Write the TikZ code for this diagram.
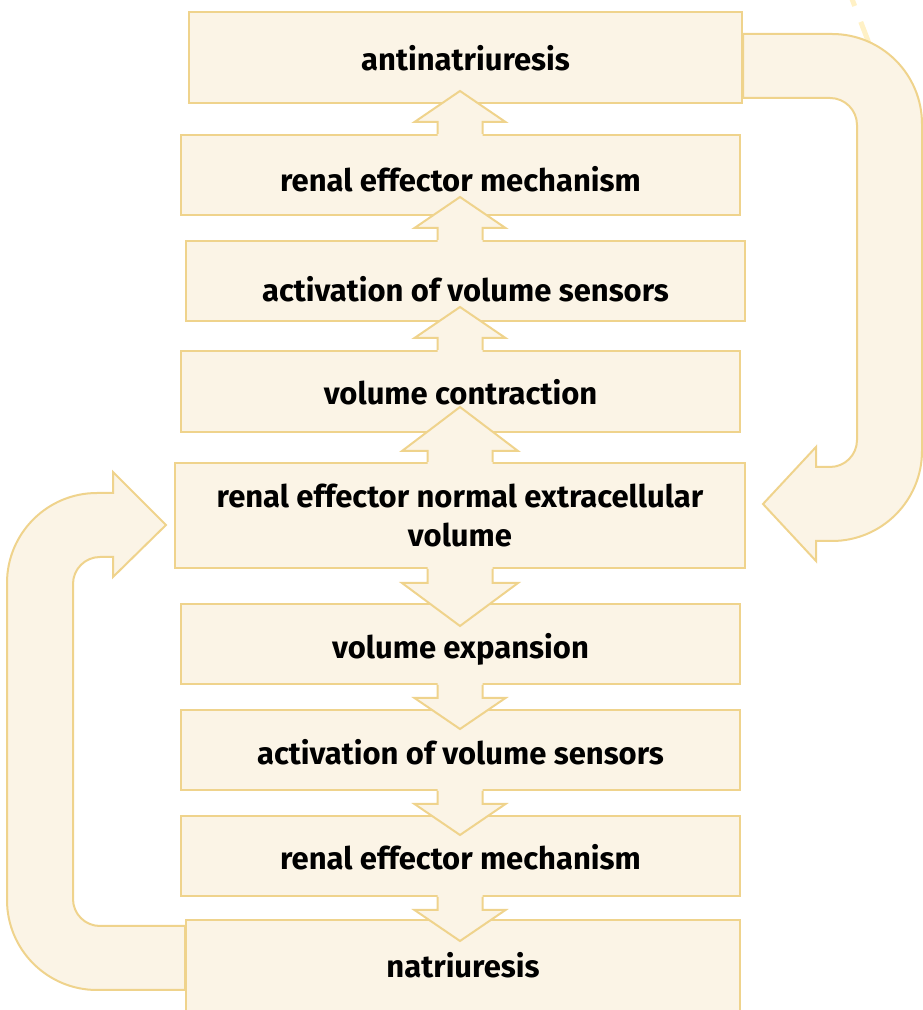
\documentclass[tikz,border=0pt]{standalone}
\usepackage{fontspec}
\setmainfont{Fira Sans}
\usetikzlibrary{calc}
\definecolor{fillc}{HTML}{FBF4E6}
\definecolor{linec}{HTML}{EFD38C}
\definecolor{dashc}{HTML}{FFF1C6}
\tikzset{
  box/.style={draw=linec, fill=fillc, line width=2pt, inner sep=0pt, align=center,
    font=\bfseries\fontsize{31}{39}\selectfont},
  lbl/.style={text height=#1, text depth=0pt},
  arrfill/.style={fill=fillc},
  arrline/.style={draw=linec, line width=2pt, line join=miter},
}
\newcommand\blockup[5]{%
  \fill[arrfill] ($(mid |- #1)+(-#2,-3)$) -- ++(0,#4+3) -- ++(#2-#3,0) -- ++(#3,#5) -- ++(#3,-#5) -- ++(#2-#3,0) -- ++(0,-#4-3) -- cycle;
  \draw[arrline] ($(mid |- #1)+(-#2,0)$) -- ++(0,#4) -- ++(#2-#3,0) -- ++(#3,#5) -- ++(#3,-#5) -- ++(#2-#3,0) -- ++(0,-#4);
}
\newcommand\blockdown[5]{%
  \fill[arrfill] ($(mid |- #1)+(-#2,3)$) -- ++(0,-#4-3) -- ++(#2-#3,0) -- ++(#3,-#5) -- ++(#3,#5) -- ++(#2-#3,0) -- ++(0,#4+3) -- cycle;
  \draw[arrline] ($(mid |- #1)+(-#2,0)$) -- ++(0,-#4) -- ++(#2-#3,0) -- ++(#3,-#5) -- ++(#3,#5) -- ++(#2-#3,0) -- ++(0,#4);
}
\begin{document}
\begin{tikzpicture}[x=1pt,y=1pt]
\useasboundingbox (0,0) rectangle (922,1010);
\coordinate (mid) at (460,0);
% boxes
\node[box, lbl=27pt, minimum width=553pt, minimum height=91pt] (b1) at (465.5,952.5) {antinatriuresis};
\node[box, lbl=34pt, minimum width=559pt, minimum height=80pt] (b2) at (460.5,835) {renal effector mechanism};
\node[box, lbl=42pt, minimum width=559pt, minimum height=80pt] (b3) at (465.5,729) {activation of volume sensors};
\node[box, lbl=27pt, minimum width=559pt, minimum height=81pt] (b4) at (460.5,618.5) {volume contraction};
\node[box, text depth=-4pt, minimum width=570pt, minimum height=105pt] (b5) at (460,494.5) {renal effector normal extracellular\\volume};
\node[box, lbl=30pt, minimum width=559pt, minimum height=80pt] (b6) at (460.5,366) {volume expansion};
\node[box, lbl=30pt, minimum width=559pt, minimum height=80pt] (b7) at (460.5,260) {activation of volume sensors};
\node[box, lbl=28pt, minimum width=559pt, minimum height=80pt] (b8) at (460.5,154) {renal effector mechanism};
\node[box, lbl=21pt, minimum width=554pt, minimum height=95pt] (b9) at (463,42.5) {natriuresis};
% straight block arrows
\blockup{b2.north}{22.5}{45.5}{12}{31}
\blockup{b3.north}{22.5}{45.5}{12}{31}
\blockup{b4.north}{22.5}{45.5}{12}{31}
\blockup{b5.north}{32.5}{58}{11}{44}
\blockdown{b5.south}{32.5}{58}{14}{43}
\blockdown{b6.south}{22.5}{45.5}{13}{31}
\blockdown{b7.south}{22.5}{45.5}{13}{31}
\blockdown{b8.south}{22.5}{45.5}{13}{31}
% faint dashes at top right
\draw[dashc, line width=5pt, dash pattern=on 7.5pt off 17pt on 40pt] (852,1011) -- (870,964);
% right U-shaped arrow
\coordinate (r0) at (b1.east |- 0,976);
\draw[arrline, fill=fillc] (r0) -- (832,976) arc (90:0:90) -- (922,559) arc (0:-90:90)
  -- (816,469) -- (816,449) -- (763,506) -- (816,563) -- (816,543) -- (830,543)
  arc (-90:0:27) -- (857,885) arc (0:90:27) -- (b1.east |- 0,912) -- cycle;
% left U-shaped arrow
\coordinate (l0) at (b9.west |- 0,20);
\draw[arrline, fill=fillc] (l0) -- (97,20) arc (270:180:90) -- (7,427) arc (180:90:90)
  -- (113,517) -- (113,538) -- (166,485) -- (113,433) -- (113,453) -- (100,453)
  arc (90:180:27) -- (73,111) arc (180:270:27) -- (b9.west |- 0,84) -- cycle;
\end{tikzpicture}
\end{document}
